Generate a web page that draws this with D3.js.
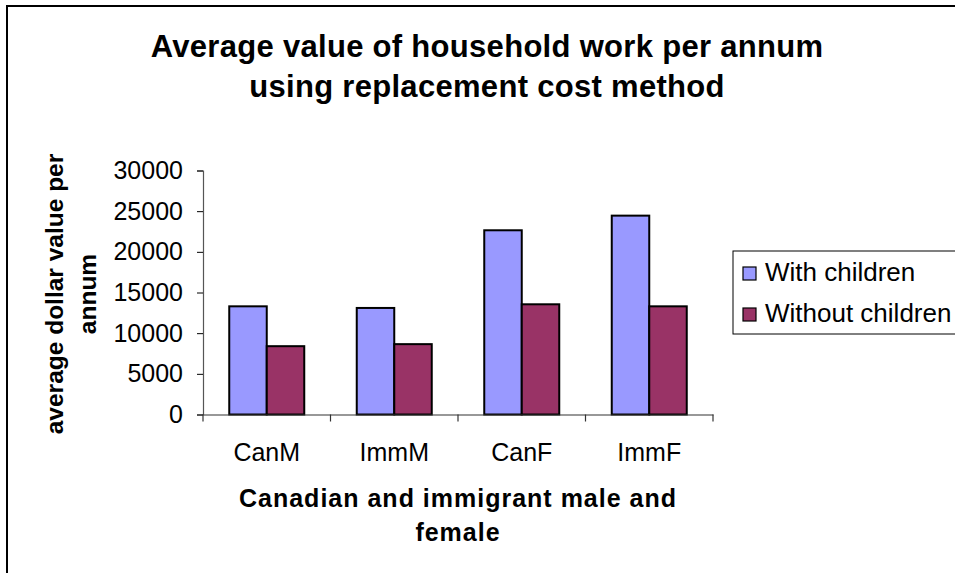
<!DOCTYPE html>
<html>
<head>
<meta charset="utf-8">
<script src="https://cdn.jsdelivr.net/npm/d3@7"></script>
<style>
  html, body { margin: 0; padding: 0; background: #fff; overflow: hidden; }
  svg { display: block; font-family: "Liberation Sans", Arial, sans-serif; }
</style>
</head>
<body>
<svg id="chart" width="955" height="573"></svg>
<script>
const categories = ["CanM", "ImmM", "CanF", "ImmF"];
const seriesNames = ["With children", "Without children"];
const withChildren = [13300, 13100, 22650, 24450];
const withoutChildren = [8400, 8650, 13550, 13300];
const yTicks = [0, 5000, 10000, 15000, 20000, 25000, 30000];
const titleLines = ["Average value of household work per annum", "using replacement cost method"];
const yTitleLines = ["average dollar value per", "annum"];
const xTitleLines = ["Canadian and immigrant male and", "female"];
const colors = ["#9999FF", "#993366"];

const svg = d3.select("#chart");

// outer frame
svg.append("rect").attr("x", 7).attr("y", 6).attr("width", 1000).attr("height", 1000)
  .attr("fill", "#fff").attr("stroke", "#000").attr("stroke-width", 2);

const x0 = d3.scaleBand().domain(categories).range([203, 713]).paddingInner(0).paddingOuter(0);
const x1 = d3.scaleBand().domain(seriesNames).range([0, x0.bandwidth()]).paddingInner(0).paddingOuter(0.7);
const y = d3.scaleLinear().domain([0, 30000]).range([414.5, 170.5]);

// title
svg.append("g").selectAll("text").data(titleLines).join("text")
  .attr("x", 487).attr("y", (d, i) => 57 + i * 40)
  .attr("text-anchor", "middle").attr("font-weight", "bold")
  .attr("font-size", 31).attr("letter-spacing", 0.3).attr("fill", "#000")
  .text(d => d);

// y axis
const yAxis = d3.axisLeft(y).tickValues(yTicks).tickSize(6).tickPadding(14).tickFormat(d3.format("d"));
const gy = svg.append("g").attr("transform", "translate(203,0)").call(yAxis);
gy.select(".domain").attr("stroke", "#555").attr("stroke-width", 1.2);
gy.selectAll(".tick line").attr("stroke", "#000");
gy.selectAll(".tick text").attr("font-size", 25).attr("font-family", "Liberation Sans, Arial, sans-serif").attr("fill", "#000");

// bars
const data = categories.map((c, i) => ({ cat: c, vals: [withChildren[i], withoutChildren[i]] }));
const groups = svg.append("g").selectAll("g").data(data).join("g")
  .attr("transform", d => `translate(${x0(d.cat)},0)`);
groups.selectAll("rect").data(d => d.vals.map((v, j) => ({ s: seriesNames[j], v, j }))).join("rect")
  .attr("x", d => x1(d.s)).attr("width", x1.bandwidth())
  .attr("y", d => y(d.v)).attr("height", d => y(0) - y(d.v))
  .attr("fill", d => colors[d.j]).attr("stroke", "#000").attr("stroke-width", 2);

// x axis
const xAxis = d3.axisBottom(x0).tickSize(0).tickPadding(0);
const gx = svg.append("g").attr("transform", `translate(0,${y(0)})`).call(xAxis);
gx.select(".domain").attr("stroke", "#333").attr("stroke-width", 1.2);
gx.selectAll(".tick text").attr("font-size", 25).attr("font-family", "Liberation Sans, Arial, sans-serif")
  .attr("fill", "#000").attr("dy", 0).attr("y", 46);
// category separators
const seps = categories.map(c => x0(c)).concat([x0.range()[1]]);
svg.append("g").selectAll("line").data(seps).join("line")
  .attr("x1", d => d).attr("x2", d => d).attr("y1", y(0)).attr("y2", y(0) + 7)
  .attr("stroke", "#333").attr("stroke-width", 1.2);

// y title
const yt = svg.append("text").attr("transform", "translate(0,294) rotate(-90)")
  .attr("text-anchor", "middle").attr("font-weight", "bold").attr("font-size", 24.5).attr("fill", "#000");
yt.selectAll("tspan").data(yTitleLines).join("tspan")
  .attr("x", 0).attr("y", (d, i) => 63 + i * 33).text(d => d);

// x title
svg.append("g").selectAll("text").data(xTitleLines).join("text")
  .attr("x", 458).attr("y", (d, i) => 507 + i * 34)
  .attr("text-anchor", "middle").attr("font-weight", "bold")
  .attr("font-size", 25).attr("letter-spacing", 1).attr("fill", "#000")
  .text(d => d);

// legend
const lg = svg.append("g");
lg.append("rect").attr("x", 733).attr("y", 251).attr("width", 300).attr("height", 83)
  .attr("fill", "#fff").attr("stroke", "#000").attr("stroke-width", 1);
const li = lg.selectAll("g.item").data(seriesNames).join("g").attr("class", "item")
  .attr("transform", (d, i) => `translate(0,${i * 41})`);
li.append("rect").attr("x", 743).attr("y", 267).attr("width", 13).attr("height", 13)
  .attr("fill", (d, i) => colors[i]).attr("stroke", "#000").attr("stroke-width", 1.2);
li.append("text").attr("x", 765).attr("y", 281).attr("font-size", 26).attr("fill", "#000").text(d => d);
</script>
</body>
</html>
